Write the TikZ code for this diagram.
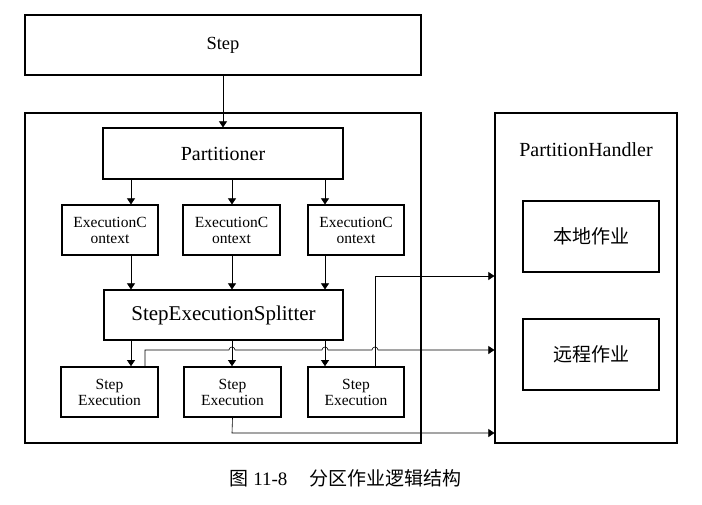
\documentclass[tikz,border=0pt]{standalone}
\usepackage{fontspec}
\setmainfont{Liberation Serif}
\newfontfamily\cjk{Noto Sans CJK SC}
\usetikzlibrary{arrows.meta,calc}
\tikzset{
  box/.style={draw=black, line width=1.2pt, inner sep=0pt, align=center},
  sebox/.style={box, line width=1.7pt},
  arr/.style={draw=black, line width=0.6pt, -{Triangle[length=6pt,width=8pt]}},
  ln/.style={draw=black, line width=0.6pt},
  big/.style={font=\fontsize{20}{22}\selectfont},
  mid/.style={font=\fontsize{15.5}{16}\selectfont},
}
\begin{document}
\begin{tikzpicture}[x=1pt,y=-1pt]
\useasboundingbox (0,0) rectangle (702,504);
% boxes
\node[box, minimum width=396pt, minimum height=60pt, font=\fontsize{18.5}{20}\selectfont] (step) at (223,45) {Step};
\node[box, minimum width=396pt, minimum height=330pt] (outer) at (223,278) {};
\node[box, minimum width=240pt, minimum height=51pt, big] (part) at (223,153.5) {Partitioner};
\node[box, minimum width=96pt, minimum height=50pt, mid] (ec1) at (110,230) {ExecutionC\\ontext};
\node[box, minimum width=97pt, minimum height=50pt, mid] (ec2) at (231.5,230) {ExecutionC\\ontext};
\node[box, minimum width=96pt, minimum height=50pt, mid] (ec3) at (356,230) {ExecutionC\\ontext};
\node[box, minimum width=239pt, minimum height=50pt, font=\fontsize{21}{23}\selectfont] (split) at (223.5,315) {StepExecutionSplitter};
\node[sebox, minimum width=97pt, minimum height=50pt, mid] (se1) at (109.5,392) {Step\\Execution};
\node[sebox, minimum width=97pt, minimum height=50pt, mid] (se2) at (232.5,392) {Step\\Execution};
\node[sebox, minimum width=96pt, minimum height=50pt, mid] (se3) at (356,392) {Step\\Execution};
\node[box, minimum width=182pt, minimum height=330pt] (ph) at (586,278) {};
\node[big] (phlabel) at (586,150) {PartitionHandler};
\node[box, minimum width=136pt, minimum height=71pt, font=\cjk\fontsize{19}{21}\selectfont] (local) at (591,236.5) {本地作业};
\node[box, minimum width=136pt, minimum height=71pt, font=\cjk\fontsize{19}{21}\selectfont] (remote) at (591,354.5) {远程作业};
% caption
\node[font=\fontsize{19}{21}\selectfont, anchor=west] (cap) at (226,478) {{\cjk 图} 11-8\hspace{22pt}{\cjk 分区作业逻辑结构}};
% column coordinates
\coordinate (ca) at (131,0);
\coordinate (cb) at (232,0);
\coordinate (cc) at (325,0);
\coordinate (k1) at (375,276);
\coordinate (k2) at (145,350);
\coordinate (k3) at (232,433);
% vertical arrows
\draw[arr] (step.south) -- (part.north);
\draw[arr] (part.south -| ca) -- (ec1.north -| ca);
\draw[arr] (part.south -| cb) -- (ec2.north -| cb);
\draw[arr] (part.south -| cc) -- (ec3.north -| cc);
\draw[arr] (ec1.south -| ca) -- (split.north -| ca);
\draw[arr] (ec2.south -| cb) -- (split.north -| cb);
\draw[arr] (ec3.south -| cc) -- (split.north -| cc);
\draw[arr] (split.south -| ca) -- (se1.north -| ca);
\draw[arr] (split.south -| cb) -- (se2.north -| cb);
\draw[arr] (split.south -| cc) -- (se3.north -| cc);
% connectors to PartitionHandler
\draw[arr] (se3.north -| k1) -- (k1) -- (ph.west |- k1);
\draw[arr] (se2.south) -- (k3) -- (ph.west |- k3);
\draw[arr] (se1.north -| k2) -- (k2)
  -- ($(k2 -| cb)+(-3,0)$) arc[start angle=180, end angle=0, radius=3pt]
  -- ($(k2 -| cc)+(-3,0)$) arc[start angle=180, end angle=0, radius=3pt]
  -- ($(k2 -| k1)+(-3,0)$) arc[start angle=180, end angle=0, radius=3pt]
  -- (ph.west |- k2);
\end{tikzpicture}
\end{document}
